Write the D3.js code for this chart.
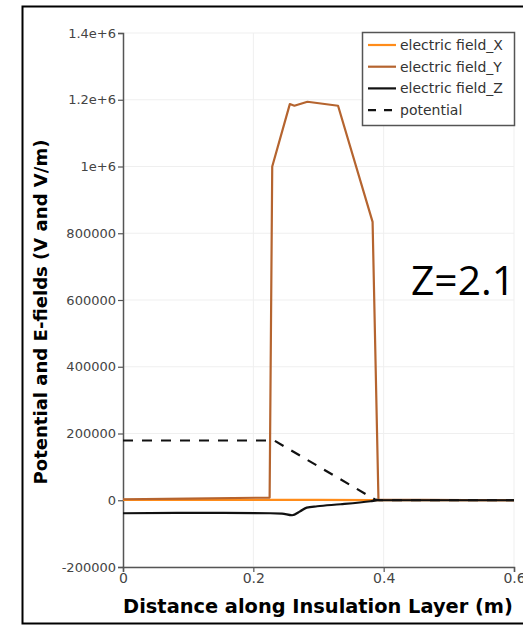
<!DOCTYPE html>
<html>
<head>
<meta charset="utf-8">
<script src="https://cdn.jsdelivr.net/npm/d3@7"></script>
<style>
  body { margin: 0; background: #fff; }
  svg { display: block; }
</style>
</head>
<body>
<div id="chart"></div>
<script>
// Data (distance in m, value in V or V/m)
var fieldX = [[0, 1000], [0.1, 1000], [0.2, 1000], [0.3, 1000], [0.385, 500], [0.393, 0], [0.6, 0]];
var fieldY = [[0, 3000], [0.1, 5000], [0.225, 8000], [0.229, 1000000], [0.256, 1187000], [0.263, 1182000],
  [0.283, 1194000], [0.330, 1182000], [0.383, 834000], [0.392, 2000], [0.6, 0]];
var fieldZ = [[0, -39000], [0.12, -38000], [0.226, -39000], [0.244, -40000], [0.2595, -45000], [0.272, -33000],
  [0.282, -22000], [0.298, -18000], [0.334, -12000], [0.38, -3000], [0.392, 0], [0.6, 0]];
var potential = [[0, 179000], [0.232, 179000], [0.386, 3000], [0.393, 0], [0.6, 0]];

var seriesNames = ["electric field_X", "electric field_Y", "electric field_Z", "potential"];
var seriesColors = ["#ff8c1a", "#b5642f", "#111111", "#111111"];
var yTicks = [1400000, 1200000, 1000000, 800000, 600000, 400000, 200000, 0, -200000];
var yTickLabels = ["1.4e+6", "1.2e+6", "1e+6", "800000", "600000", "400000", "200000", "0", "-200000"];
var xTicks = [0, 0.2, 0.4, 0.6];
var xTickLabels = ["0", "0.2", "0.4", "0.6"];

var svgWidth = 523;
var svgHeight = 627;
var margin = { top: 33, right: 9, bottom: 60, left: 123 };

var svg = d3.select("#chart").append("svg")
  .attr("width", svgWidth)
  .attr("height", svgHeight);

// outer frame
svg.append("rect")
  .attr("x", 22.5).attr("y", 6.5)
  .attr("width", 520).attr("height", 617)
  .attr("fill", "none").attr("stroke", "#000").attr("stroke-width", 2);

var chartGroup = svg.append("g")
  .attr("transform", `translate(${margin.left}, ${margin.top})`);

var xScale = d3.scaleLinear().domain([0, 0.6]).range([0, 391]);
var yScale = d3.scaleLinear().domain([-200000, 1400000]).range([534, 0]);

// grid lines
chartGroup.append("g")
  .selectAll("line")
  .data(yTicks)
  .enter().append("line")
  .attr("x1", 0).attr("x2", xScale(0.6))
  .attr("y1", d => yScale(d)).attr("y2", d => yScale(d))
  .attr("stroke", "#efefef").attr("stroke-width", 1);
chartGroup.append("g")
  .selectAll("line")
  .data(xTicks.slice(1))
  .enter().append("line")
  .attr("x1", d => xScale(d)).attr("x2", d => xScale(d))
  .attr("y1", 0).attr("y2", yScale(-200000))
  .attr("stroke", "#efefef").attr("stroke-width", 1);

// axes
var leftAxis = d3.axisLeft(yScale)
  .tickValues(yTicks)
  .tickSize(5)
  .tickFormat((d, i) => yTickLabels[i]);
var bottomAxis = d3.axisBottom(xScale)
  .tickValues(xTicks)
  .tickSize(5)
  .tickFormat((d, i) => xTickLabels[i]);

var yAxis = chartGroup.append("g").call(leftAxis);
var xAxis = chartGroup.append("g")
  .attr("transform", `translate(0, ${yScale(-200000)})`)
  .call(bottomAxis);

[xAxis, yAxis].forEach(function(ax) {
  ax.select(".domain").attr("stroke", "#555").attr("stroke-width", 1.5);
  ax.selectAll(".tick line").attr("stroke", "#555").attr("stroke-width", 1.2);
  ax.selectAll(".tick text")
    .attr("fill", "#444")
    .style("font-family", "DejaVu Sans")
    .style("font-size", "13px");
});
yAxis.selectAll(".tick text").attr("x", -7);
xAxis.selectAll(".tick text").attr("y", 6).style("font-size", "14px");

// lines
var line = d3.line()
  .x(d => xScale(d[0]))
  .y(d => yScale(d[1]))
  .curve(d3.curveMonotoneX);

var allSeries = [fieldX, fieldY, fieldZ, potential];
allSeries.forEach(function(s, i) {
  chartGroup.append("path")
    .datum(s)
    .attr("d", i === 2 ? line : line.curve(d3.curveLinear))
    .attr("fill", "none")
    .attr("stroke", seriesColors[i])
    .attr("stroke-width", 2.2)
    .attr("stroke-linejoin", "round")
    .attr("stroke-dasharray", i === 3 ? "10,9" : null);
  line.curve(d3.curveMonotoneX);
});

// legend
var legend = svg.append("g").attr("transform", "translate(362, 32)");
legend.append("rect")
  .attr("x", 0.5).attr("y", 0.5)
  .attr("width", 152).attr("height", 93)
  .attr("fill", "#fff").attr("stroke", "#555").attr("stroke-width", 1.5);
var items = legend.selectAll("g.item")
  .data(seriesNames)
  .enter().append("g")
  .attr("transform", (d, i) => `translate(0, ${13 + i * 21.7})`);
items.append("line")
  .attr("x1", 6).attr("x2", 34)
  .attr("y1", 0).attr("y2", 0)
  .attr("stroke", (d, i) => seriesColors[i])
  .attr("stroke-width", 2.2)
  .attr("stroke-dasharray", (d, i) => i === 3 ? "8,8" : null);
items.append("text")
  .attr("x", 38).attr("y", 0)
  .attr("dy", "0.35em")
  .attr("fill", "#333")
  .style("font-family", "DejaVu Sans")
  .style("font-size", "14px")
  .text(d => d);

// fit a text to a target width by adjusting its font size
function fitWidth(sel, target) {
  var w = sel.node().getComputedTextLength();
  var fs = parseFloat(sel.style("font-size"));
  sel.style("font-size", (fs * target / w) + "px");
}

// axis titles
var xTitle = svg.append("text")
  .attr("x", 318).attr("y", 613)
  .attr("text-anchor", "middle")
  .style("font-family", "DejaVu Sans")
  .style("font-weight", "bold")
  .style("font-size", "18px")
  .text("Distance along Insulation Layer (m)");
fitWidth(xTitle, 390);

var yTitle = svg.append("text")
  .attr("transform", "translate(47, 312) rotate(-90)")
  .attr("text-anchor", "middle")
  .style("font-family", "DejaVu Sans")
  .style("font-weight", "bold")
  .style("font-size", "17px")
  .text("Potential and E-fields (V and V/m)");
fitWidth(yTitle, 345);

// annotation
var zText = svg.append("text")
  .attr("x", 411).attr("y", 295)
  .style("font-family", "Open Sans")
  .style("font-size", "40px")
  .attr("fill", "#000")
  .text("Z=2.1");
fitWidth(zText, 104);
</script>
</body>
</html>
